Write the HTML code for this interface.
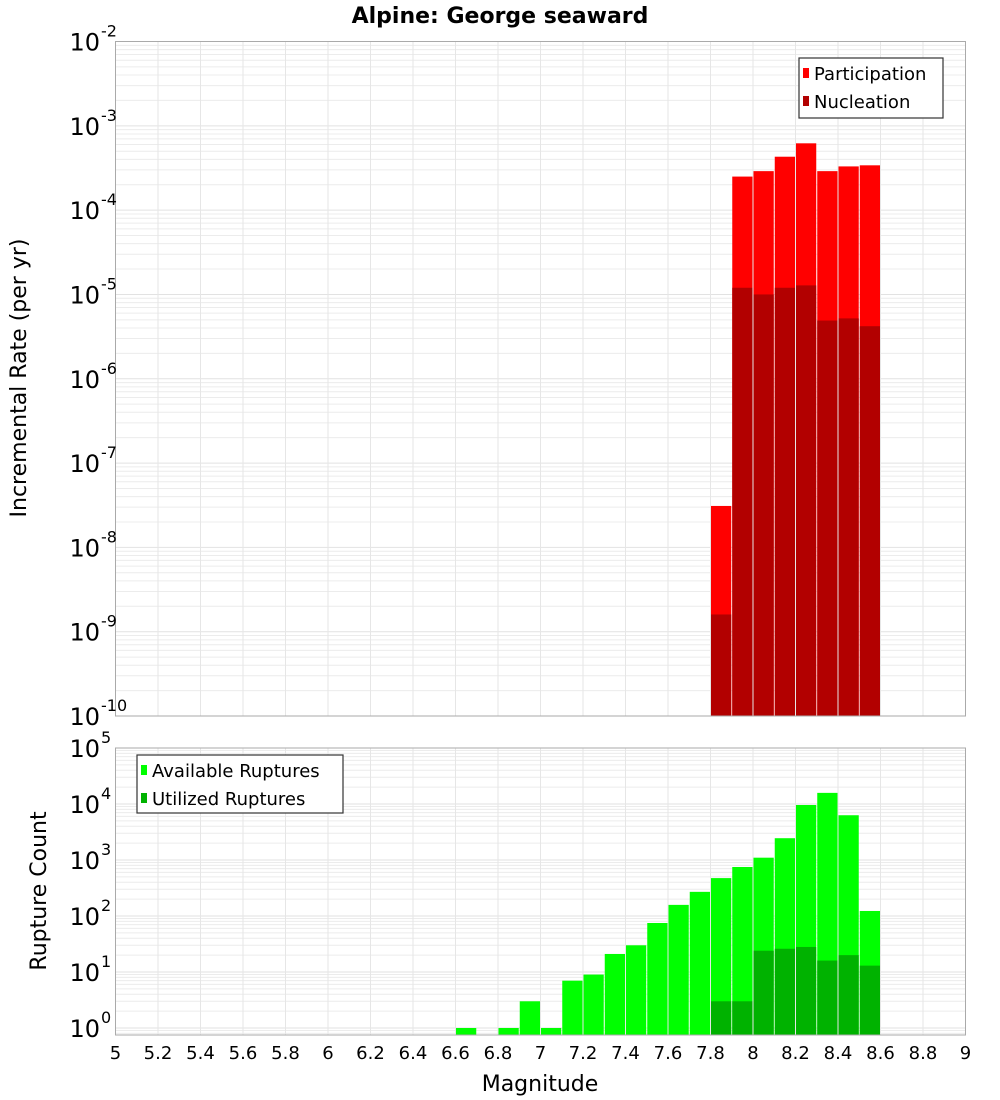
<!DOCTYPE html>
<html><head><meta charset="utf-8"><style>
body{margin:0;background:#fff;}
svg{display:block;font-family:"DejaVu Sans","Liberation Sans",sans-serif;}
</style></head><body>
<svg id="c" width="1000" height="1100" xmlns="http://www.w3.org/2000/svg">
<text x="500" y="23" text-anchor="middle" font-size="22" font-weight="bold">Alpine: George seaward</text>
<text transform="translate(26,378) rotate(-90)" text-anchor="middle" font-size="22">Incremental Rate (per yr)</text>
<text transform="translate(46,891) rotate(-90)" text-anchor="middle" font-size="22">Rupture Count</text>
<text x="540" y="1091" text-anchor="middle" font-size="22">Magnitude</text>
<g id="g"></g>
</svg>
<script>
const binStarts=[7.8,7.9,8.0,8.1,8.2,8.3,8.4,8.5];
const participation=[3.1e-8,2.5e-4,2.9e-4,4.3e-4,6.2e-4,2.9e-4,3.3e-4,3.4e-4];
const nucleation=[1.6e-9,1.2e-5,1.0e-5,1.2e-5,1.28e-5,4.9e-6,5.2e-6,4.2e-6];
const countBins=[6.6,6.8,6.9,7.0,7.1,7.2,7.3,7.4,7.5,7.6,7.7,7.8,7.9,8.0,8.1,8.2,8.3,8.4,8.5];
const available=[1,1,3,1,7,9,21,30,75,158,270,475,750,1100,2450,9600,15800,6300,123];
const utilizedBins=[7.8,7.9,8.0,8.1,8.2,8.3,8.4,8.5];
const utilized=[3,3,24,26,28,16,20,13];
const xTicks=[5,5.2,5.4,5.6,5.8,6,6.2,6.4,6.6,6.8,7,7.2,7.4,7.6,7.8,8,8.2,8.4,8.6,8.8,9];
const topExps=[-2,-3,-4,-5,-6,-7,-8,-9,-10];
const botExps=[0,1,2,3,4,5];

const NS="http://www.w3.org/2000/svg";
const g=document.getElementById('g');
function el(t,a,p){const e=document.createElementNS(NS,t);for(const k in a)e.setAttribute(k,a[k]);(p||g).appendChild(e);return e;}
const L=115.5,R=965.5;
const x=v=>L+(v-5)/4*(R-L);
const T1=41.5,B1=716;
const yTop=v=>T1+(-2-Math.log10(v))*(B1-T1)/8;
const T2=748,dec2=56;
const B2=1035;
const yBot=v=>T2+(5-Math.log10(v))*dec2;

function grid(top,bot,yf,lo,hi){
  for(let e=lo;e<hi;e++)for(let m=1;m<10;m++){const yy=yf(m*Math.pow(10,e));if(yy<top||yy>bot)continue;
    const l=el('line',{x1:L,x2:R,y1:yy,y2:yy,stroke:m==1?'#e2e2e2':'#ececec','stroke-width':1});
    
    }
  xTicks.forEach(t=>{const l=el('line',{x1:x(t),x2:x(t),y1:top,y2:bot,stroke:'#e6e6e6'});
    
    });
}
grid(T1,B1,yTop,-10,-1);
grid(T2,B2,yBot,-1,5);

function bar(x0,v,yf,base,fill,name){
  const a=x(x0)+0.5,b=x(x0+0.1)-0.5,yy=yf(v);
  const r=el('rect',{x:a,y:yy,width:b-a,height:base-yy,fill:fill});
  
  
}
binStarts.forEach((s,i)=>bar(s,participation[i],yTop,B1,'#ff0000','participation-bar'));
binStarts.forEach((s,i)=>bar(s,nucleation[i],yTop,B1,'#b20000','nucleation-bar'));
countBins.forEach((s,i)=>bar(s,available[i],yBot,B2,'#00ff00','available-bar'));
utilizedBins.forEach((s,i)=>bar(s,utilized[i],yBot,B2,'#00b200','utilized-bar'));

[[T1,B1],[T2,B2]].forEach(([t,b])=>{const f=el('rect',{x:L,y:t,width:R-L,height:b-t,fill:'none',stroke:'#aaa'});
  
  });

function ylab(e,yy){
  const t=el('text',{x:100,y:yy+9,'text-anchor':'end','font-size':24});
  t.textContent='10';
  
  
  const s=el('text',{x:101,y:yy-5,'font-size':16});
  s.textContent=String(e);
  
  
}
topExps.forEach(e=>ylab(e,yTop(Math.pow(10,e))));
botExps.forEach(e=>ylab(e,yBot(Math.pow(10,e))));
xTicks.forEach(t=>{const s=el('text',{x:x(t),y:1059,'text-anchor':'middle','font-size':18});
  s.textContent=String(t);
  
  });

function legend(x0,y0,w,h,items,name){
  const lg=el('g',{});
  
  
  el('rect',{x:x0,y:y0,width:w,height:h,fill:'#fff',stroke:'#333','stroke-width':1.2},lg);
  items.forEach(([c,t],i)=>{
    el('rect',{x:x0+4,y:y0+10+i*28,width:6,height:10,fill:c},lg);
    const tx=el('text',{x:x0+15,y:y0+22+i*28,'font-size':18},lg);
    tx.textContent=t;
    
    
  });
}
legend(799,58,144,60,[['#ff0000','Participation'],['#b20000','Nucleation']],'top-legend');
legend(137,755,206,58,[['#00ff00','Available Ruptures'],['#00b200','Utilized Ruptures']],'bottom-legend');
</script>
</body></html>
